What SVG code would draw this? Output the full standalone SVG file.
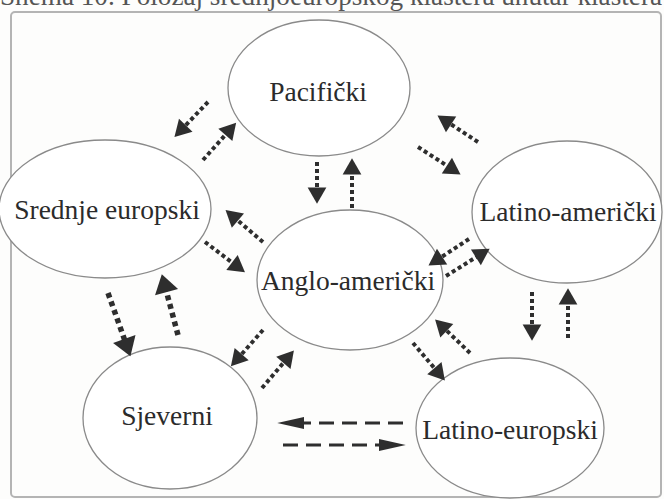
<svg xmlns="http://www.w3.org/2000/svg" width="664" height="499" viewBox="0 0 664 499">
<style>
.bg{fill:#fdfdfc}
.frame{fill:none;stroke:#b4b4b4;stroke-width:2}
.node ellipse{fill:#ffffff;stroke:#8a8a8a;stroke-width:1.3}
.node text{font-family:"Liberation Serif","Times New Roman",serif;font-size:27.5px;fill:#2b2b2b;text-anchor:middle}
.dot{fill:none;stroke:#2e2e2e;stroke-width:4;stroke-dasharray:4 3}
.dotb{fill:none;stroke:#2e2e2e;stroke-width:5.5;stroke-dasharray:5 4}
.dash{fill:none;stroke:#2e2e2e;stroke-width:3;stroke-dasharray:15 8}
.cap{font-family:"Liberation Serif","Times New Roman",serif;font-size:27px;fill:#555}
</style>
<defs>
<marker id="h" markerUnits="userSpaceOnUse" markerWidth="20" markerHeight="20" viewBox="0 -8 14 16" refX="2" refY="0" orient="auto">
<path d="M0,-7.5 L13,0 L0,7.5 z" fill="#2e2e2e"/>
</marker>
<marker id="hb" markerUnits="userSpaceOnUse" markerWidth="26" markerHeight="26" viewBox="0 -12 18 24" refX="2" refY="0" orient="auto">
<path d="M0,-11 L17,0 L0,11 z" fill="#2e2e2e"/>
</marker>
<marker id="hd" markerUnits="userSpaceOnUse" markerWidth="28" markerHeight="14" viewBox="0 -6 26 12" refX="2" refY="0" orient="auto">
<path d="M0,-5.5 L25,0 L0,5.5 z" fill="#2e2e2e"/>
</marker>
</defs>
<rect class="bg" x="0" y="0" width="664" height="499"/>
<text class="cap" x="0" y="5" textLength="662" lengthAdjust="spacingAndGlyphs">Shema 10. Položaj srednjoeuropskog klastera unutar klastera</text>
<rect class="frame" x="11" y="12" width="650" height="485" rx="4"/>
<g id="pacificki" class="node"><ellipse cx="319" cy="88" rx="91" ry="68"/><text x="318" y="101">Pacifički</text></g>
<g id="srednje-europski" class="node"><ellipse cx="105" cy="209" rx="106" ry="69"/><text x="107" y="219">Srednje europski</text></g>
<g id="latino-americki" class="node"><ellipse cx="567" cy="212" rx="95" ry="71"/><text x="568" y="221">Latino-američki</text></g>
<g id="anglo-americki" class="node"><ellipse cx="350" cy="280" rx="93" ry="70"/><text x="348" y="290">Anglo-američki</text></g>
<g id="sjeverni" class="node"><ellipse cx="170" cy="418" rx="87" ry="71"/><text x="167" y="425">Sjeverni</text></g>
<g id="latino-europski" class="node"><ellipse cx="510" cy="428" rx="94" ry="70"/><text x="510" y="439">Latino-europski</text></g>
<g id="connectors">
<path class="dot" marker-end="url(#h)" d="M208,102 L184,127"/>
<path class="dot" marker-end="url(#h)" d="M203,160 L227,133"/>
<path class="dot" marker-end="url(#h)" d="M317,162 L317,190"/>
<path class="dot" marker-end="url(#h)" d="M352,208 L352,172"/>
<path class="dot" marker-end="url(#h)" d="M478,142 L449,123"/>
<path class="dot" marker-end="url(#h)" d="M418,147 L449,167"/>
<path class="dot" marker-end="url(#h)" d="M469,239 L440,258"/>
<path class="dot" marker-end="url(#h)" d="M446,276 L478,256"/>
<path class="dot" marker-end="url(#h)" d="M263,242 L236,219"/>
<path class="dot" marker-end="url(#h)" d="M205,242 L234,264"/>
<path class="dotb" marker-end="url(#hb)" d="M108,293 L125,341"/>
<path class="dotb" marker-end="url(#hb)" d="M178,335 L166,290"/>
<path class="dot" marker-end="url(#h)" d="M263,330 L240,356"/>
<path class="dot" marker-end="url(#h)" d="M262,388 L285,361"/>
<path class="dot" marker-end="url(#h)" d="M413,343 L436,370"/>
<path class="dot" marker-end="url(#h)" d="M470,353 L445,329"/>
<path class="dot" marker-end="url(#h)" d="M532,292 L532,327"/>
<path class="dot" marker-end="url(#h)" d="M568,338 L568,302"/>
<path class="dash" marker-end="url(#hd)" d="M403,423 L302,423"/>
<path class="dash" marker-end="url(#hd)" d="M283,445 L381,445"/>
</g>
</svg>
